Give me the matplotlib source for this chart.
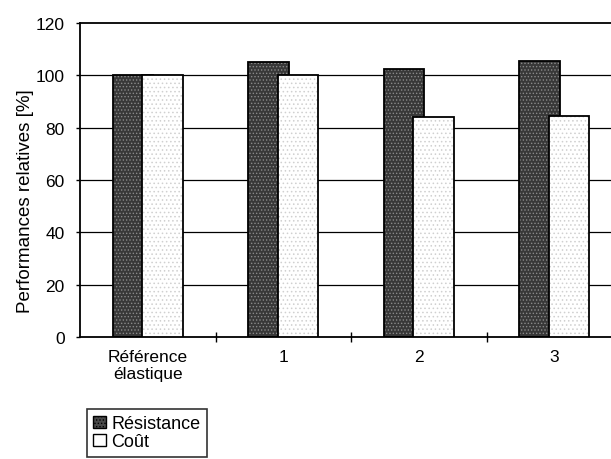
import numpy as np
import matplotlib.pyplot as plt
from matplotlib.patches import Patch

plt.rcParams['font.family'] = ['Liberation Sans', 'DejaVu Sans']
plt.rcParams['hatch.linewidth'] = 0.6

categories = ['Référence\nélastique', '1', '2', '3']
resistance = [100, 105, 102.5, 105.5]
cout = [100, 100, 84, 84.5]
y_ticks = [0, 20, 40, 60, 80, 100, 120]

fig = plt.figure(figsize=(6.11, 4.6), dpi=100)
ax = fig.add_axes([80 / 611, 1 - 338 / 460, 542 / 611, 314 / 460])

x = np.arange(len(categories))
w = 0.30
off = 0.11

# grid behind the bars
for yv in y_ticks[1:-1]:
    ax.axhline(yv, color='black', lw=0.9, zorder=0)

# dark stippled bars
ax.bar(x - off, resistance, w, color='#383838', hatch='.....', edgecolor='#8a8a8a',
       lw=0, zorder=2)
ax.bar(x - off, resistance, w, fill=False, edgecolor='black', lw=1.3, zorder=3)
# light stippled bars
ax.bar(x + off, cout, w, color='white', hatch='....', edgecolor='#d0d0d0',
       lw=0, zorder=4)
ax.bar(x + off, cout, w, fill=False, edgecolor='black', lw=1.3, zorder=5)

ax.set_xlim(-0.5, 3.5)
ax.set_ylim(0, 120)
ax.set_yticks(y_ticks)
ax.set_xticks(x)
ax.set_xticklabels(categories, fontsize=12.5, linespacing=1.15)
ax.set_xticks(x[:-1] + 0.5, minor=True)
ax.tick_params(axis='x', which='major', length=0, pad=9)
ax.tick_params(axis='x', which='minor', length=7, direction='inout', width=1)
ax.tick_params(axis='y', length=3, width=1, labelsize=12.5, pad=8)
for s in ax.spines.values():
    s.set_linewidth(1.3)

ax.set_ylabel('Performances relatives [%]', fontsize=13.5)
ax.yaxis.set_label_coords(-0.085, 0.435)

handles = [Patch(facecolor='#4a4a4a', edgecolor='black', hatch='.....', label='Résistance'),
           Patch(facecolor='white', edgecolor='black', label='Coût')]
leg = fig.legend(handles=handles, loc='upper left', bbox_to_anchor=(87 / 611, 1 - 410 / 460),
                 fontsize=13, frameon=True, fancybox=False, edgecolor='black',
                 handlelength=0.7, handleheight=0.7, handletextpad=0.3,
                 borderpad=0.35, labelspacing=0.05, borderaxespad=0)
leg.get_frame().set_linewidth(1.2)

fig.savefig('out.png', dpi=100)
